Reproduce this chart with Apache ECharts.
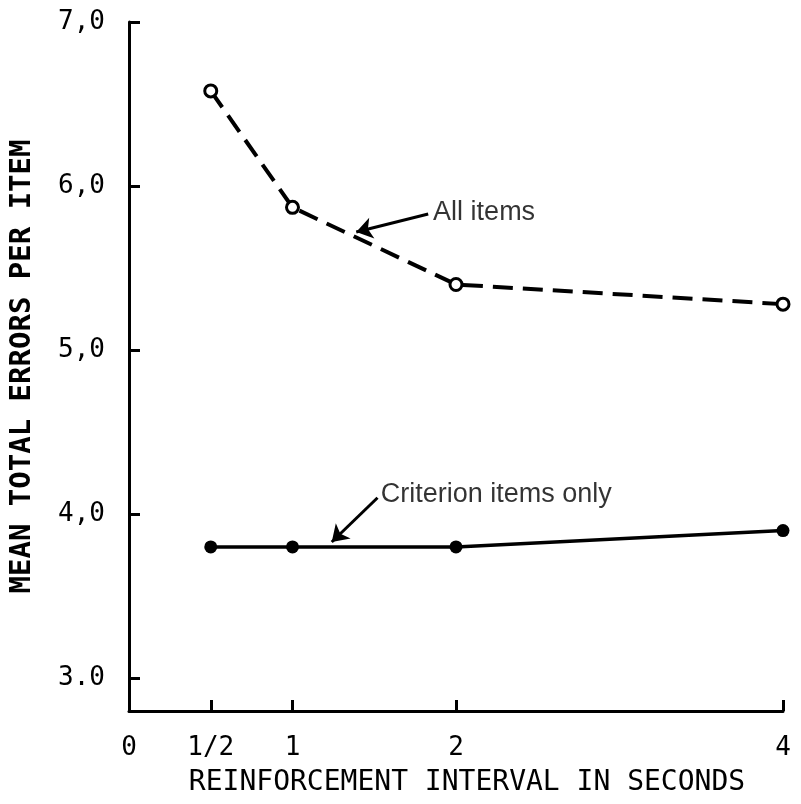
<!DOCTYPE html>
<html>
<head>
<meta charset="utf-8">
<script src="https://cdn.jsdelivr.net/npm/echarts@6/dist/echarts.min.js"></script>
<style>html,body{margin:0;padding:0;background:#fff}#c{width:801px;height:804px}</style>
</head>
<body>
<div id="c"></div>
<script>
// ---- data ----
const intervals = [0.5, 1, 2, 4];
const allItems = [6.58, 5.87, 5.40, 5.28];
const criterionItems = [3.80, 3.80, 3.80, 3.90];
const xTickValues = [0, 0.5, 1, 2, 4];
const xTickLabels = ['0', '1/2', '1', '2', '4'];
const yTickValues = [3, 4, 5, 6, 7];
const yTickLabels = ['3.0', '4,0', '5,0', '6,0', '7,0'];
const xTitle = 'REINFORCEMENT INTERVAL IN SECONDS';
const yTitle = 'MEAN TOTAL ERRORS PER ITEM';
const annAllText = 'All items';
const annCritText = 'Criterion items only';

// annotation placement (data coords)
const annAll = { text: [1.86, 5.84], from: [1.83, 5.83], to: [1.39, 5.72] };
const annCrit = { text: [1.54, 4.12], from: [1.52, 4.10], to: [1.24, 3.83] };

function pick(vals, labels, v) {
  for (let i = 0; i < vals.length; i++) if (Math.abs(vals[i] - v) < 1e-6) return labels[i];
  return '';
}

const chart = echarts.init(document.getElementById('c'), null, { renderer: 'canvas' });
const black = '#000';
const monoFont = '"DejaVu Sans Mono", monospace';

chart.setOption({
  backgroundColor: '#fff',
  animation: false,
  grid: { left: 129, right: 18, top: 22, bottom: 93, containLabel: false, outerBoundsMode: 'none' },
  xAxis: {
    type: 'value', min: 0, max: 4,
    name: xTitle, nameLocation: 'middle', nameGap: 58,
    nameTextStyle: { fontFamily: monoFont, fontSize: 28, color: black, padding: [0, 0, 0, 22] },
    axisLine: { show: true, lineStyle: { color: black, width: 3 } },
    axisTick: { show: true, inside: true, length: 11, lineStyle: { color: black, width: 3 }, customValues: intervals },
    axisLabel: { customValues: xTickValues, formatter: v => pick(xTickValues, xTickLabels, v),
      fontFamily: monoFont, fontSize: 26, color: black, margin: 24 },
    splitLine: { show: false }
  },
  yAxis: {
    type: 'value', min: 2.8, max: 7,
    name: yTitle, nameLocation: 'middle', nameGap: 92, nameRotate: 90,
    nameTextStyle: { fontFamily: monoFont, fontSize: 29, fontWeight: 'bold', color: black },
    axisLine: { show: true, lineStyle: { color: black, width: 3 } },
    axisTick: { show: true, inside: true, length: 11, lineStyle: { color: black, width: 3 }, customValues: yTickValues },
    axisLabel: { customValues: yTickValues, formatter: v => pick(yTickValues, yTickLabels, v),
      fontFamily: monoFont, fontSize: 26, color: black, margin: 24 },
    splitLine: { show: false }
  },
  series: [
    {
      name: 'All items', type: 'line',
      data: intervals.map((x, i) => [x, allItems[i]]),
      symbol: 'circle', symbolSize: 12,
      itemStyle: { color: '#fff', borderColor: black, borderWidth: 3 },
      lineStyle: { color: black, width: 4, type: [20, 10] },
      z: 3,
      markLine: {
        silent: true, symbol: ['none', 'arrow'], symbolSize: 16, animation: false,
        label: { show: false },
        lineStyle: { color: black, width: 3, type: 'solid' },
        data: [[{ coord: annAll.from }, { coord: annAll.to }]]
      }
    },
    {
      name: 'Criterion items only', type: 'line',
      data: intervals.map((x, i) => [x, criterionItems[i]]),
      symbol: 'circle', symbolSize: 13,
      itemStyle: { color: black, borderColor: black, borderWidth: 0 },
      lineStyle: { color: black, width: 3.5, type: 'solid' },
      z: 3,
      markLine: {
        silent: true, symbol: ['none', 'arrow'], symbolSize: 16, animation: false,
        label: { show: false },
        lineStyle: { color: black, width: 3, type: 'solid' },
        data: [[{ coord: annCrit.from }, { coord: annCrit.to }]]
      }
    },
    {
      type: 'scatter', symbolSize: 0, silent: true,
      data: [
        { value: annAll.text, label: { formatter: annAllText } },
        { value: annCrit.text, label: { formatter: annCritText } }
      ],
      label: { show: true, position: 'right', distance: 0,
        fontFamily: '"Liberation Sans", Arial, sans-serif', fontSize: 27, color: black }
    }
  ]
});
</script>
</body>
</html>
